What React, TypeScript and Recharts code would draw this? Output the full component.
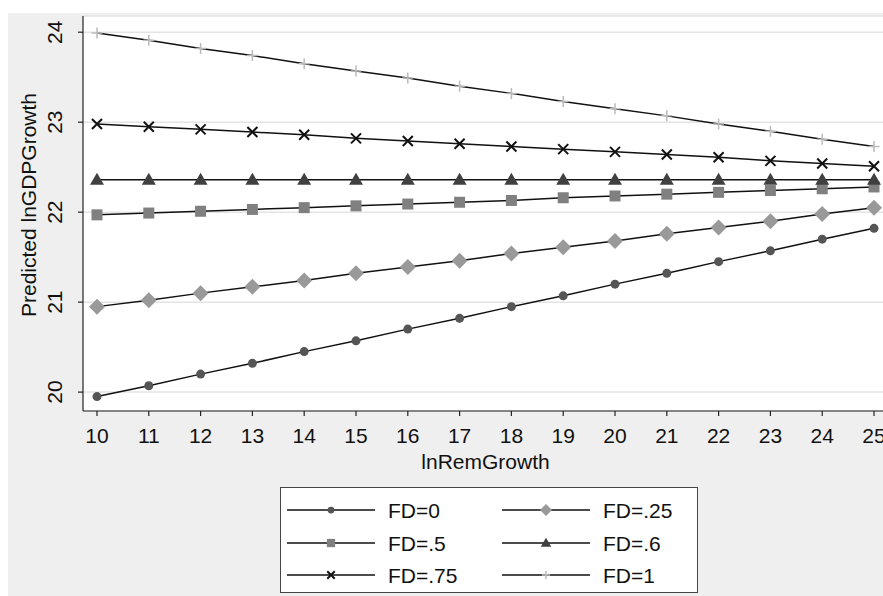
import React from "react";
import { LineChart, Line, XAxis, YAxis, CartesianGrid, Label } from "recharts";

// predicted lnGDPGrowth by lnRemGrowth, one line per FD level
const remGrowth = [10, 11, 12, 13, 14, 15, 16, 17, 18, 19, 20, 21, 22, 23, 24, 25];
const fd0 = [19.95, 20.07, 20.2, 20.32, 20.45, 20.57, 20.7, 20.82, 20.95, 21.07, 21.2, 21.32, 21.45, 21.57, 21.7, 21.82];
const fd25 = [20.95, 21.02, 21.1, 21.17, 21.24, 21.32, 21.39, 21.46, 21.54, 21.61, 21.68, 21.76, 21.83, 21.9, 21.98, 22.05];
const fd5 = [21.97, 21.99, 22.01, 22.03, 22.05, 22.07, 22.09, 22.11, 22.13, 22.16, 22.18, 22.2, 22.22, 22.24, 22.26, 22.28];
const fd6 = [22.36, 22.36, 22.36, 22.36, 22.36, 22.36, 22.36, 22.36, 22.36, 22.36, 22.36, 22.36, 22.36, 22.36, 22.36, 22.36];
const fd75 = [22.98, 22.95, 22.92, 22.89, 22.86, 22.82, 22.79, 22.76, 22.73, 22.7, 22.67, 22.64, 22.61, 22.57, 22.54, 22.51];
const fd1 = [23.99, 23.91, 23.82, 23.74, 23.65, 23.57, 23.49, 23.4, 23.32, 23.23, 23.15, 23.07, 22.98, 22.9, 22.81, 22.73];

const xTicks = [10, 11, 12, 13, 14, 15, 16, 17, 18, 19, 20, 21, 22, 23, 24, 25];
const yTicks = [20, 21, 22, 23, 24];
const legendLabels = ["FD=0", "FD=.25", "FD=.5", "FD=.6", "FD=.75", "FD=1"];

const data = remGrowth.map((x, i) => ({
  x,
  fd0: fd0[i],
  fd25: fd25[i],
  fd5: fd5[i],
  fd6: fd6[i],
  fd75: fd75[i],
  fd1: fd1[i],
}));

const FONT = "'Liberation Sans', Arial, sans-serif";

type Shape = "circle" | "diamond" | "square" | "triangle" | "x" | "plus";

const marker = (shape: Shape, cx: number, cy: number, s: number, key?: string) => {
  switch (shape) {
    case "circle":
      return <circle key={key} cx={cx} cy={cy} r={4.5 * s} fill="#555" />;
    case "diamond": {
      const h = 8 * s;
      return (
        <polygon
          key={key}
          points={`${cx},${cy - h} ${cx + h},${cy} ${cx},${cy + h} ${cx - h},${cy}`}
          fill="#999"
        />
      );
    }
    case "square": {
      const h = 5.5 * s;
      return <rect key={key} x={cx - h} y={cy - h} width={2 * h} height={2 * h} fill="#808080" />;
    }
    case "triangle": {
      const w = 7 * s;
      return (
        <polygon
          key={key}
          points={`${cx},${cy - 7 * s} ${cx + w},${cy + 5 * s} ${cx - w},${cy + 5 * s}`}
          fill="#404040"
        />
      );
    }
    case "x": {
      const h = 5 * s;
      return (
        <path
          key={key}
          d={`M${cx - h},${cy - h}L${cx + h},${cy + h}M${cx - h},${cy + h}L${cx + h},${cy - h}`}
          stroke="#111"
          strokeWidth={2}
        />
      );
    }
    default: {
      const h = 5.5 * s;
      return (
        <path
          key={key}
          d={`M${cx - h},${cy}L${cx + h},${cy}M${cx},${cy - h}L${cx},${cy + h}`}
          stroke="#bbb"
          strokeWidth={1.5}
        />
      );
    }
  }
};

const dotFor = (shape: Shape) => (props: any) =>
  marker(shape, props.cx, props.cy, 1, `${shape}-${props.index}`);

const YTick = (props: any) => {
  const { x, y, payload } = props;
  return (
    <text
      x={x - 14}
      y={y}
      transform={`rotate(-90, ${x - 14}, ${y})`}
      textAnchor="middle"
      fontSize={21}
      fontFamily={FONT}
      fill="#111"
    >
      {payload.value}
    </text>
  );
};

const XTick = (props: any) => {
  const { x, y, payload } = props;
  return (
    <text x={x} y={y + 25} textAnchor="middle" fontSize={21} fontFamily={FONT} fill="#111">
      {payload.value}
    </text>
  );
};

const series: { key: string; shape: Shape }[] = [
  { key: "fd0", shape: "circle" },
  { key: "fd25", shape: "diamond" },
  { key: "fd5", shape: "square" },
  { key: "fd6", shape: "triangle" },
  { key: "fd75", shape: "x" },
  { key: "fd1", shape: "plus" },
];

const LegendBox = () => {
  const rows = [23, 56, 88];
  return (
    <svg
      width={418}
      height={106}
      style={{ position: "absolute", left: 272, top: 474, background: "#fff" }}
    >
      <rect x={0.5} y={0.5} width={417} height={105} fill="#fff" stroke="#444" strokeWidth={1} />
      {series.map((s, i) => {
        const col = i % 2;
        const y = rows[Math.floor(i / 2)];
        const x0 = col === 0 ? 7 : 222;
        return (
          <g key={s.key}>
            <line x1={x0} x2={x0 + 88} y1={y} y2={y} stroke="#111" strokeWidth={1.5} />
            {marker(s.shape, x0 + 44, y, 0.75)}
            <text x={x0 + 101} y={y + 7.5} fontSize={21} fontFamily={FONT} fill="#111">
              {legendLabels[i]}
            </text>
          </g>
        );
      })}
    </svg>
  );
};

const App: React.FC = () => {
  return (
    <div
      style={{
        position: "fixed",
        left: 8,
        top: 13,
        width: 875,
        height: 583,
        overflow: "hidden",
        background: "#efefef",
      }}
    >
      <LineChart
        width={890}
        height={583}
        data={data}
        margin={{ top: 3, right: 10, left: 0, bottom: 0 }}
      >
        <CartesianGrid vertical={false} stroke="#e4e4e4" strokeWidth={1.5} fill="#fff" />
        <XAxis
          dataKey="x"
          type="number"
          domain={[9.73, 25.27]}
          ticks={xTicks}
          allowDataOverflow
          height={185}
          tickSize={5}
          stroke="#222"
          strokeWidth={1.2}
          tick={<XTick />}
          interval={0}
        >
          <Label
            content={(p: any) => (
              <text
                x={p.viewBox.x + p.viewBox.width / 2}
                y={p.viewBox.y + 58}
                textAnchor="middle"
                fontSize={21}
                fontFamily={FONT}
                fill="#111"
              >
                lnRemGrowth
              </text>
            )}
          />
        </XAxis>
        <YAxis
          type="number"
          domain={[19.79, 24.18]}
          ticks={yTicks}
          allowDataOverflow
          width={75}
          tickSize={5}
          stroke="#222"
          strokeWidth={1.2}
          tick={<YTick />}
          interval={0}
        >
          <Label
            content={() => (
              <text
                x={28}
                y={192}
                transform="rotate(-90, 28, 192)"
                textAnchor="middle"
                fontSize={21}
                fontFamily={FONT}
                fill="#111"
              >
                Predicted lnGDPGrowth
              </text>
            )}
          />
        </YAxis>
        {series.map((s) => (
          <Line
            key={s.key}
            dataKey={s.key}
            type="linear"
            stroke="#111"
            strokeWidth={1.5}
            dot={dotFor(s.shape)}
            activeDot={false}
            isAnimationActive={false}
          />
        ))}
      </LineChart>
      <LegendBox />
    </div>
  );
};

export default App;
